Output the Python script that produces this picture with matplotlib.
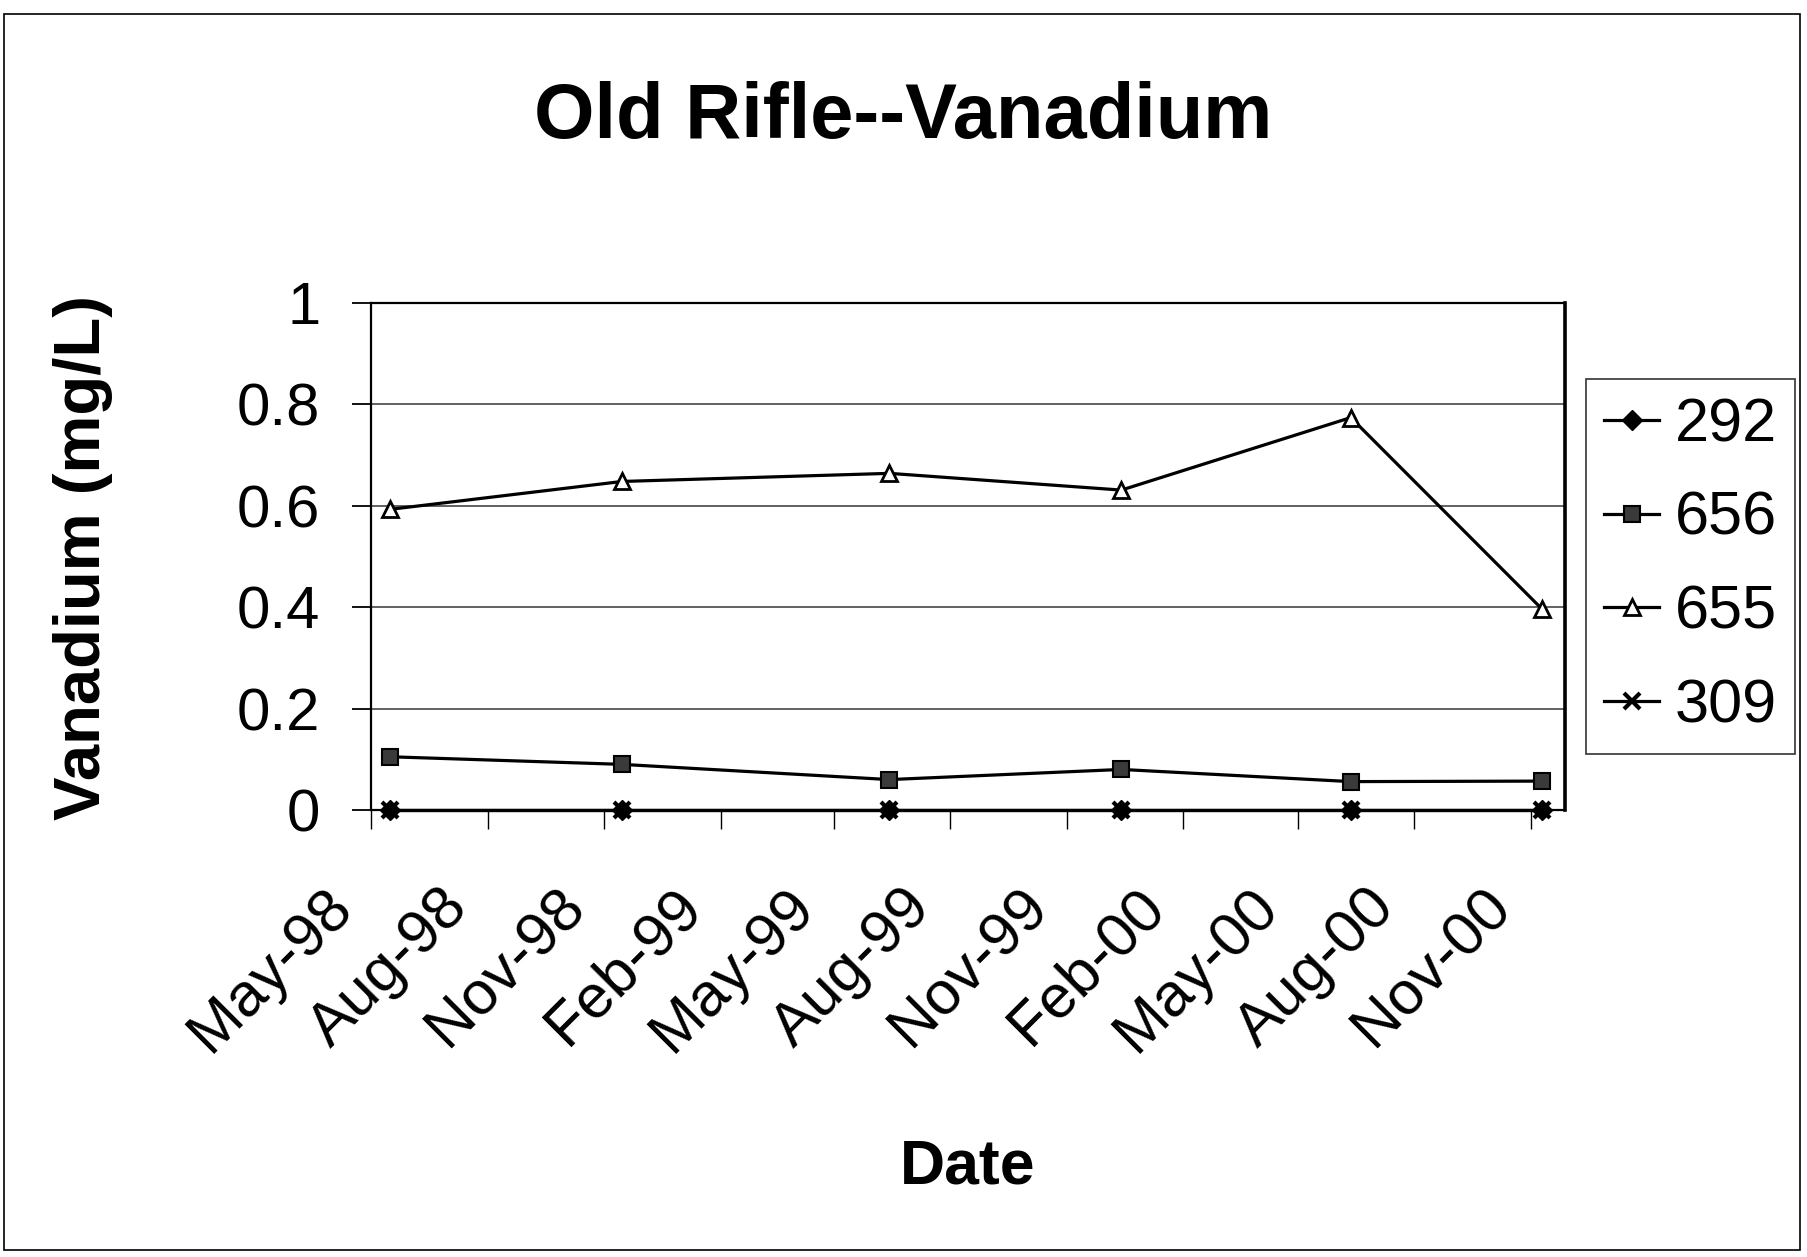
import matplotlib
matplotlib.use("Agg")
import matplotlib.pyplot as plt
import matplotlib.dates as mdates
from matplotlib.transforms import ScaledTranslation
from matplotlib.patches import Rectangle
import datetime as dt

# ---- data ----
dates = ["1998-05-16", "1998-11-15", "1999-06-14", "1999-12-14", "2000-06-12", "2000-11-10"]
v292 = [0.0, 0.0, 0.0, 0.0, 0.0, 0.0]
v656 = [0.105, 0.090, 0.060, 0.080, 0.056, 0.057]
v655 = [0.593, 0.648, 0.664, 0.631, 0.774, 0.396]
v309 = [0.0, 0.0, 0.0, 0.0, 0.0, 0.0]
series_names = ["292", "656", "655", "309"]
yticks = [0, 0.2, 0.4, 0.6, 0.8, 1]
x_start = "1998-05-01"
x_end = "2000-11-28"

plt.rcParams['font.family'] = ['Liberation Sans', 'DejaVu Sans']

W, H = 1807, 1257
fig = plt.figure(figsize=(W / 100, H / 100), dpi=100)
ax = fig.add_axes([371 / W, 1 - 810 / H, (1565 - 371) / W, (810 - 303) / H])

x = [dt.datetime.strptime(d, "%Y-%m-%d") for d in dates]
lw = 2.3
ax.plot(x, v292, color='black', lw=lw, marker='D', ms=10, mfc='black', mec='black',
        label=series_names[0], zorder=3, clip_on=False)
ax.plot(x, v656, color='black', lw=lw, marker='s', ms=11.5, mfc='#3a3a3a', mec='black', mew=1.5,
        label=series_names[1], zorder=3)
ax.plot(x, v655, color='black', lw=lw, marker='^', ms=12, mfc='white', mec='black', mew=2,
        label=series_names[2], zorder=3)
ax.plot(x, v309, color='black', lw=lw, marker='x', ms=12, mfc='black', mec='black', mew=3,
        label=series_names[3], zorder=4, clip_on=False)

ax.set_xlim(dt.datetime.strptime(x_start, "%Y-%m-%d"), dt.datetime.strptime(x_end, "%Y-%m-%d"))
ax.set_ylim(0, 1)
ax.set_yticks(yticks)
ax.set_yticklabels(["{:g}".format(t) for t in yticks])
ax.xaxis.set_major_locator(mdates.MonthLocator(bymonth=(2, 5, 8, 11)))
ax.xaxis.set_major_formatter(mdates.DateFormatter('%b-%y'))

ax.grid(axis='y', color='#555555', lw=1.3)
ax.set_axisbelow(True)
for s in ax.spines.values():
    s.set_color('black')
    s.set_linewidth(1.6)
ax.spines['right'].set_linewidth(2.6)

ax.tick_params(axis='y', direction='out', length=13.5, width=1.3, pad=23, labelsize=43)
ax.tick_params(axis='x', direction='out', length=14, width=1.0, pad=35, labelsize=44)
for lab in ax.get_xticklabels():
    lab.set_rotation(45)
    lab.set_ha('right')
    lab.set_va('top')
    lab.set_transform(lab.get_transform() + ScaledTranslation(-8 / 100, 0, fig.dpi_scale_trans))

fig.text(0.5, 1 - 138 / H, "Old Rifle--Vanadium", ha='center', va='baseline', fontsize=56, fontweight='bold')
fig.text(83 / W, 1 - 557 / H, "Vanadium (mg/L)", ha='center', va='center', rotation=90, fontsize=47, fontweight='bold')
fig.text(968 / W, 1 - 1184 / H, "Date", ha='center', va='baseline', fontsize=45, fontweight='bold')

leg = ax.legend(loc='upper left', bbox_to_anchor=(1586 / W, 1 - 379 / H), bbox_transform=fig.transFigure,
                borderaxespad=0, fontsize=44, frameon=True, fancybox=False, edgecolor='black',
                handlelength=0.9, handletextpad=0.25, labelspacing=0.6, borderpad=0.3)
leg.get_frame().set_linewidth(1.2)

fig.patches.append(Rectangle((4 / W, 1 - 1250 / H), (1800 - 4) / W, (1250 - 14) / H,
                             transform=fig.transFigure, fill=False, edgecolor='black', lw=1.2))

fig.savefig("out.png", dpi=100, facecolor='white')
